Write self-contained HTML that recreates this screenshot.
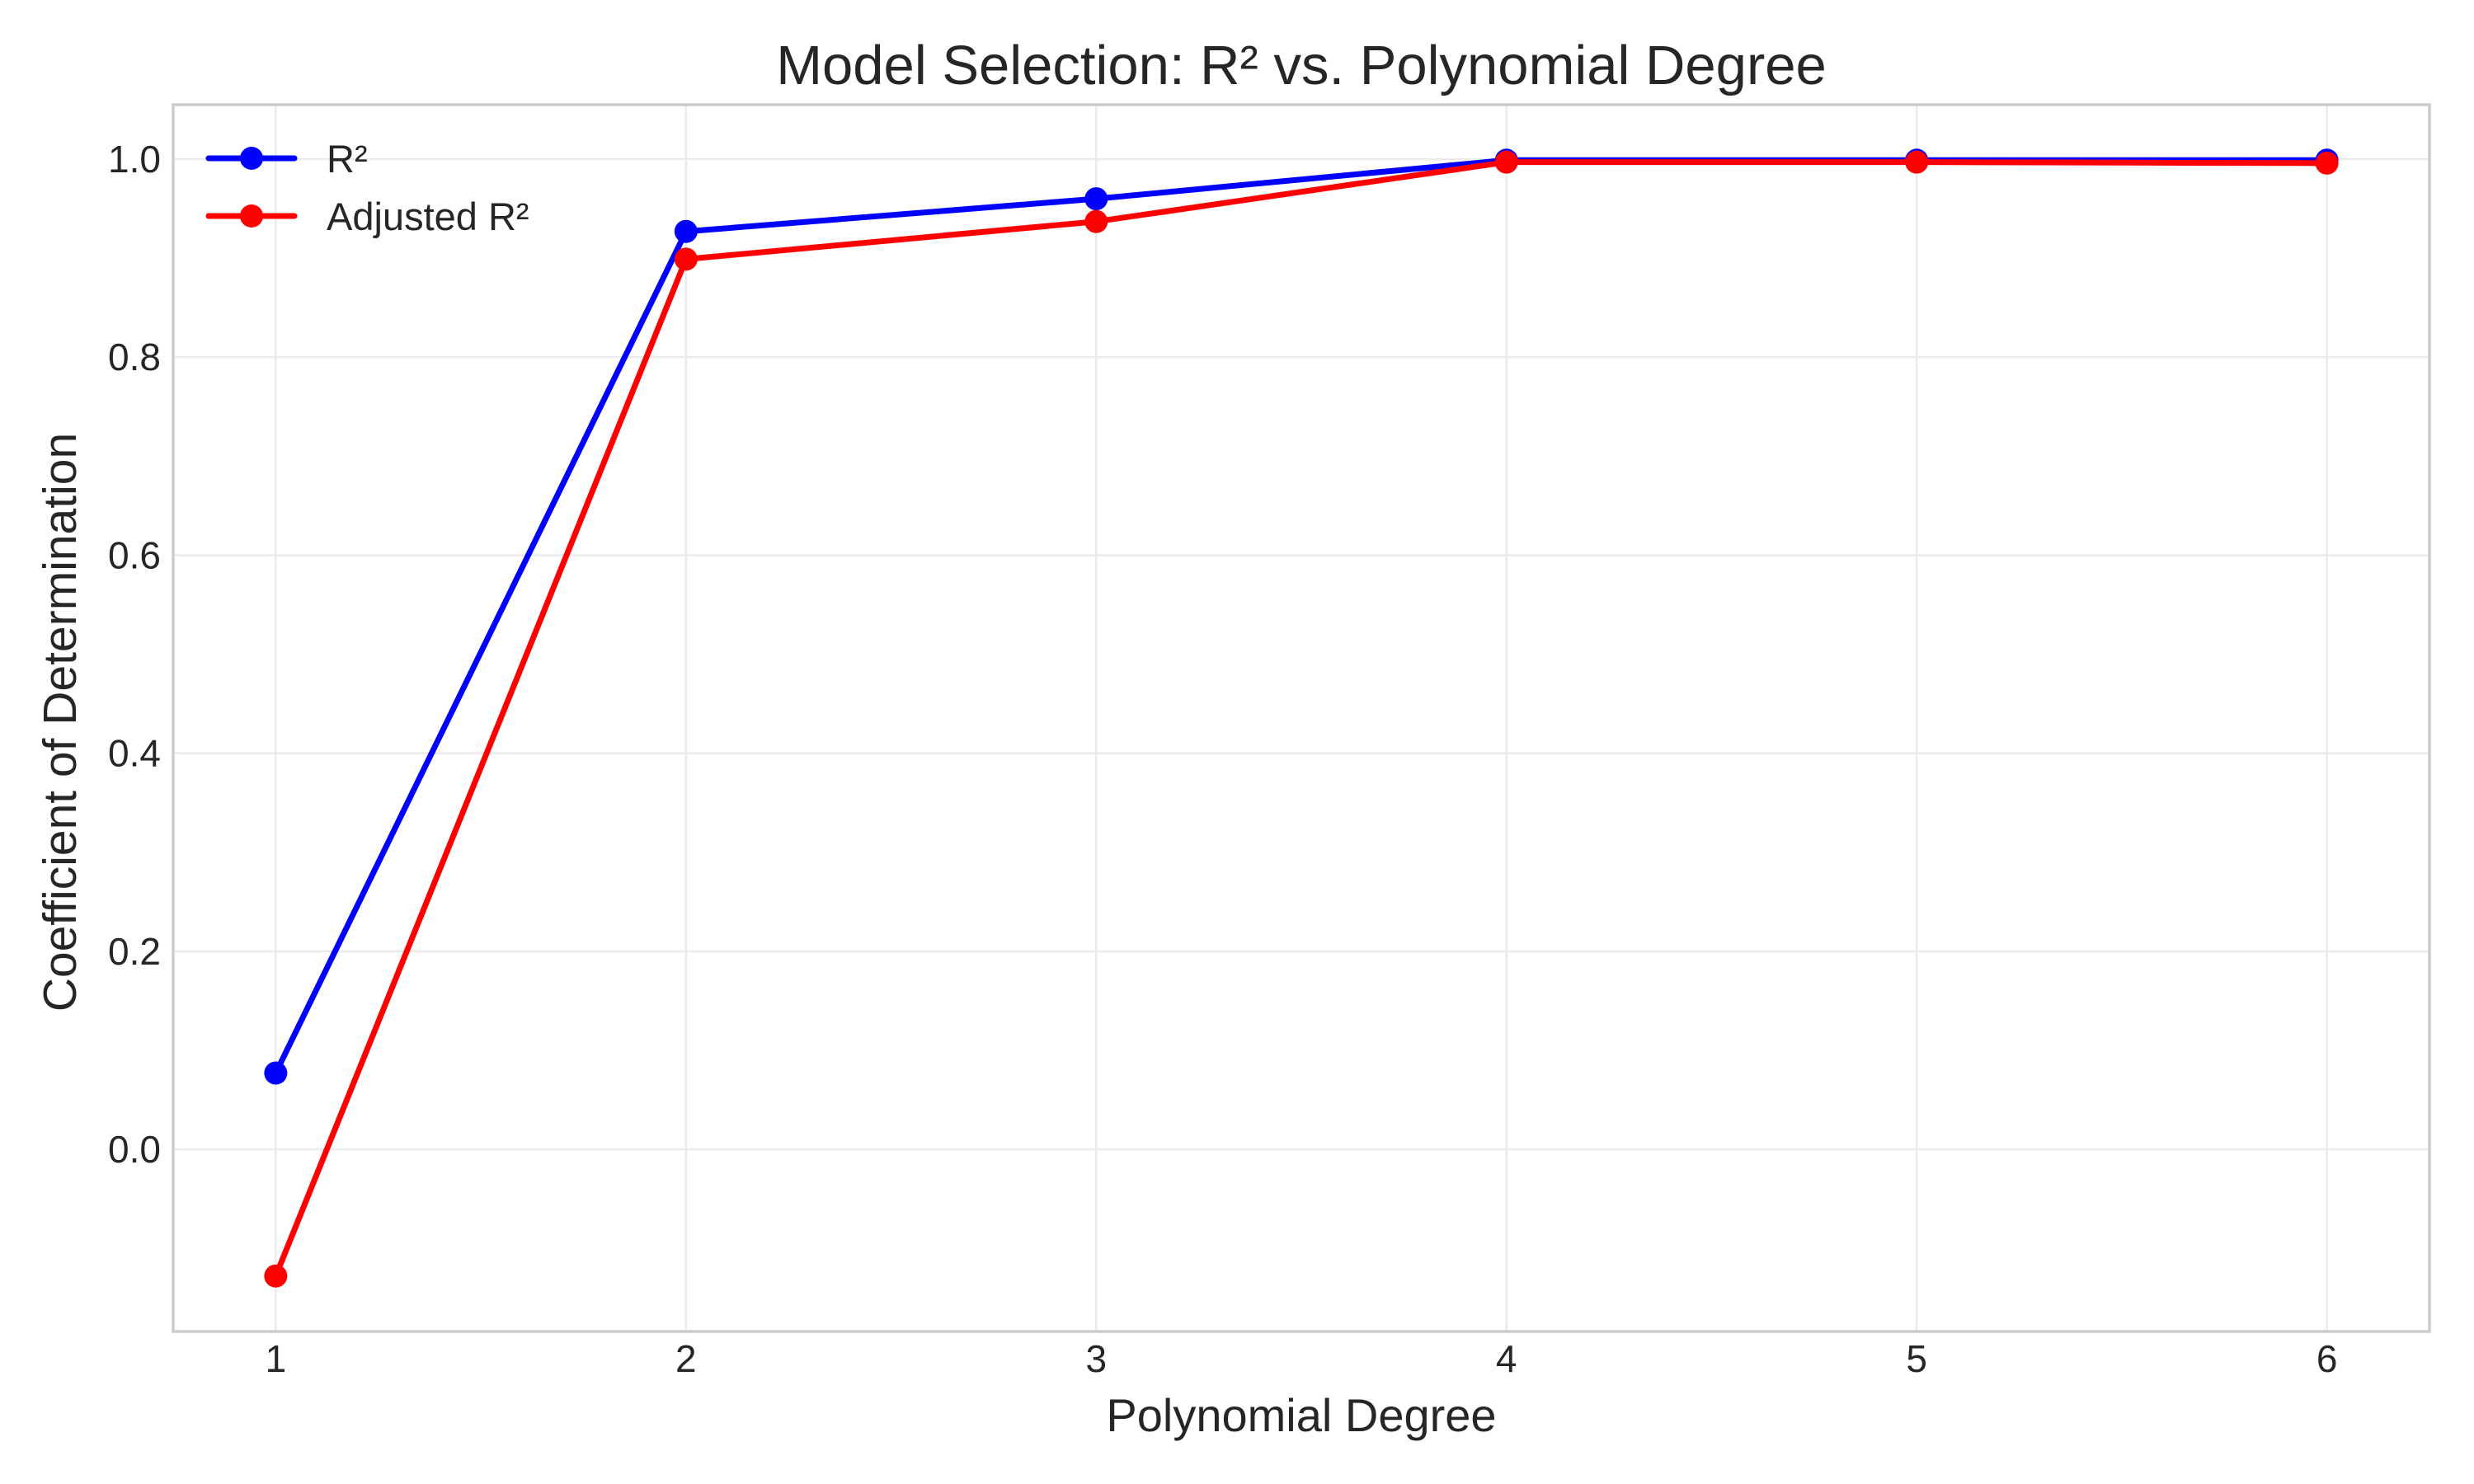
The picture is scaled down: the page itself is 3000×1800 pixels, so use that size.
<!DOCTYPE html>
<html><head><meta charset="utf-8"><style>
html,body{margin:0;padding:0;background:#fff}
svg{display:block}
text{font-family:"Liberation Sans",sans-serif;fill:#262626}
</style></head><body>
<svg id="chart" width="3000" height="1800" viewBox="0 0 3000 1800" xmlns="http://www.w3.org/2000/svg">
<rect width="3000" height="1800" fill="#fff"/>
<g id="grid"></g>
<g id="axes"></g>
<g id="series"></g>
<g id="legend"></g>
</svg>
<script>
const degrees = [1, 2, 3, 4, 5, 6];
const r2Values = [0.077, 0.927, 0.960, 0.999, 0.999, 0.999];
const adjR2Values = [-0.128, 0.899, 0.937, 0.997, 0.997, 0.996];
const yTicks = [0.0, 0.2, 0.4, 0.6, 0.8, 1.0];
const xTicks = [1, 2, 3, 4, 5, 6];

const NS = 'http://www.w3.org/2000/svg';
const L = 210, R = 2946, T = 127, B = 1615;
const xMin = 0.75, xMax = 6.25, yMin = -0.184, yMax = 1.055;
const xs = v => L + (v - xMin) / (xMax - xMin) * (R - L);
const ys = v => B - (v - yMin) / (yMax - yMin) * (B - T);
function mk(tag, attrs, parent) {
  const e = document.createElementNS(NS, tag);
  for (const k in attrs) e.setAttribute(k, attrs[k]);
  parent.appendChild(e);
  return e;
}
const grid = document.getElementById('grid');
const axes = document.getElementById('axes');
const series = document.getElementById('series');
const legend = document.getElementById('legend');

xTicks.forEach(t => {
  const g = mk('line', {x1: xs(t), x2: xs(t), y1: T, y2: B, stroke: '#ebebeb', 'stroke-width': 2.5}, grid);
  
  
  const lb = mk('text', {x: xs(t), y: 1664, 'font-size': 46, 'text-anchor': 'middle'}, axes);
  lb.textContent = t;
  
  
});
yTicks.forEach(t => {
  const g = mk('line', {x1: L, x2: R, y1: ys(t), y2: ys(t), stroke: '#ebebeb', 'stroke-width': 2.5}, grid);
  
  
  const lb = mk('text', {x: 195, y: ys(t) + 16, 'font-size': 46, 'text-anchor': 'end'}, axes);
  lb.textContent = t.toFixed(1);
  
  
});
const frame = mk('rect', {x: L, y: T, width: R - L, height: B - T, fill: 'none', stroke: '#cccccc', 'stroke-width': 3.5}, axes);



const title = mk('text', {x: (L + R) / 2, y: 102, 'font-size': 67, 'text-anchor': 'middle'}, axes);
title.textContent = 'Model Selection: R² vs. Polynomial Degree';


const xl = mk('text', {x: (L + R) / 2, y: 1736, 'font-size': 56, 'text-anchor': 'middle'}, axes);
xl.textContent = 'Polynomial Degree';


const yl = mk('text', {x: 0, y: 0, 'font-size': 57, 'text-anchor': 'middle', transform: 'translate(92,' + ((T + B) / 2 + 5) + ') rotate(-90)'}, axes);
yl.textContent = 'Coefficient of Determination';



function drawSeries(vals, color, name) {
  const pts = degrees.map((d, i) => xs(d) + ',' + ys(vals[i])).join(' ');
  const pl = mk('polyline', {points: pts, fill: 'none', stroke: color, 'stroke-width': 7, 'stroke-linejoin': 'round'}, series);
  
  
  degrees.forEach((d, i) => {
    const c = mk('circle', {cx: xs(d), cy: ys(vals[i]), r: 14, fill: color}, series);
    
    
  });
}
drawSeries(r2Values, '#0000ff', 'r2');
drawSeries(adjR2Values, '#ff0000', 'adjusted-r2');

[['R²', '#0000ff', 192, 'legend-entry-r2'], ['Adjusted R²', '#ff0000', 262, 'legend-entry-adjusted-r2']].forEach(e => {
  const g = mk('g', {}, legend);
  
  
  mk('line', {x1: 253, x2: 357, y1: e[2], y2: e[2], stroke: e[1], 'stroke-width': 7, 'stroke-linecap': 'round'}, g);
  mk('circle', {cx: 305, cy: e[2], r: 14, fill: e[1]}, g);
  const t = mk('text', {x: 396, y: e[2] + 17, 'font-size': 47}, g);
  t.textContent = e[0];
});
</script>
</body></html>
